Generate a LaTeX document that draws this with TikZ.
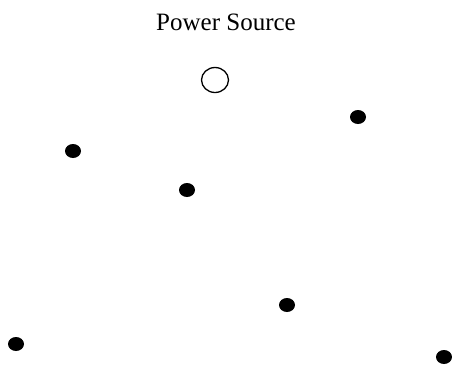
\documentclass[tikz,border=0pt]{standalone}
\usepackage{fontspec}
\setmainfont{Liberation Serif}
\usetikzlibrary{shapes.geometric}

\begin{document}
\begin{tikzpicture}[
    x=1pt, y=-1pt,
    dot/.style={ellipse, fill=black, inner sep=0pt, minimum width=16pt, minimum height=14pt},
    source/.style={ellipse, draw=black, line width=1.3pt, inner sep=0pt, minimum width=27pt, minimum height=25pt},
    title/.style={font=\fontsize{25}{30}\selectfont, inner sep=0pt}
]

% 1. Canvas
\useasboundingbox (0,0) rectangle (452,365);

% 2. Label and power source
\node[title] (label) at (226,22) {Power Source};
\node[source] (src) at (215,80) {};

% 3. Consumer points
\node[dot] (p1) at (358,117) {};
\node[dot] (p2) at (73,151) {};
\node[dot] (p3) at (187,190) {};
\node[dot] (p4) at (287,305) {};
\node[dot] (p5) at (16,344) {};
\node[dot] (p6) at (444,357) {};

\end{tikzpicture}
\end{document}
